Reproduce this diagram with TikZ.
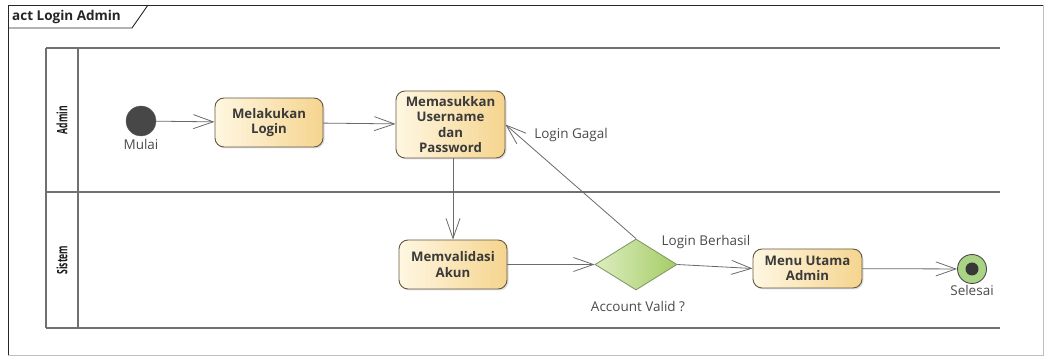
\documentclass[tikz,border=0pt]{standalone}
\usepackage{fontspec}
\setmainfont{Open Sans}
\usetikzlibrary{arrows.meta,shapes.geometric,shadows}
\definecolor{boxL}{HTML}{FFF7E2}
\definecolor{boxR}{HTML}{F5D48E}
\definecolor{boxB}{HTML}{655842}
\definecolor{dmL}{HTML}{DCEDC0}
\definecolor{dmR}{HTML}{A6CC66}
\definecolor{dmB}{HTML}{7C9460}
\definecolor{lineC}{HTML}{6A6A6A}
\definecolor{laneC}{HTML}{707070}
\definecolor{txtC}{HTML}{3A3A3A}
\definecolor{lblC}{HTML}{4A4A4A}
\definecolor{endF}{HTML}{A9D486}
\begin{document}
\begin{tikzpicture}[x=1pt,y=-1pt,
  action/.style={rectangle,rounded corners=9pt,draw=boxB,line width=0.9pt,
    left color=boxL,right color=boxR,align=center,text=txtC,
    font=\fontsize{13.2}{15.2}\selectfont\bfseries,inner sep=0pt,
    drop shadow={shadow xshift=1.5pt,shadow yshift=-1.5pt,opacity=0.25}},
  decision/.style={diamond,draw=dmB,line width=0.8pt,left color=dmL,right color=dmR,
    minimum width=82pt,minimum height=51pt,inner sep=0pt,aspect=1.6},
  flow/.style={draw=lineC,line width=0.8pt,-{Straight Barb[length=20pt,width=14pt,line width=0.8pt]}},
  lbl/.style={text=lblC,font=\fontsize{13.5}{15}\selectfont,inner sep=0pt},
  lane/.style={draw=laneC,line width=1.6pt},
  lanelbl/.style={rotate=90,font=\fontsize{11}{13}\selectfont\bfseries,text=black!90,inner sep=0pt}]
\useasboundingbox (0,0) rectangle (1045,358);
% frame
\draw[line width=0.9pt,black!85] (8,355) -- (8,5) -- (1043,5);
\draw[line width=0.6pt,black!25] (1043,5) -- (1043,355) -- (8,355);
\draw[line width=0.9pt,black!85] (8,28) -- (132,28) -- (148,5);
\node[anchor=west,inner sep=0pt,font=\fontsize{13.5}{15}\selectfont\bfseries,text=black!85] (title) at (12,17) {act Login Admin};
% lanes
\draw[lane] (46,48) -- (1000,48);
\draw[lane] (46,192) -- (1000,192);
\draw[lane] (46,328) -- (1000,328);
\draw[lane] (46,48) -- (46,328);
\draw[lane] (78,48) -- (78,328);
\node[lanelbl] (laneA) at (62,120) {\scalebox{0.78}[1.3]{Admin}};
\node[lanelbl] (laneS) at (62,260) {\scalebox{0.78}[1.3]{Sistem}};
% nodes
\node[circle,fill=black!72,draw=black!60,minimum size=30pt,inner sep=0pt] (start) at (141,121) {};
\node[lbl] (mulai) at (141,144) {Mulai};
\node[action,minimum width=108pt,minimum height=49pt] (login) at (269,122.5) {Melakukan\\Login};
\node[action,minimum width=109pt,minimum height=67pt] (input) at (450.5,124.5) {Memasukkan\\Username\\dan\\Password};
\node[action,minimum width=108pt,minimum height=49pt] (valid) at (453,264.5) {Memvalidasi\\Akun};
\node[decision] (dec) at (636,264.5) {};
\node[action,minimum width=109pt,minimum height=39pt] (menu) at (807.5,268.5) {Menu Utama\\Admin};
\node[circle,fill=endF,draw=black!70,line width=0.9pt,minimum size=29pt,inner sep=0pt] (end) at (972,269) {};
\node[circle,fill=black!78,minimum size=13pt,inner sep=0pt] (endin) at (972,269) {};
\node[lbl] (selesai) at (972,290) {Selesai};
% edges
\draw[flow] (start) -- (login);
\draw[flow] (login) -- (input);
\draw[flow] (input.south -| valid.north) -- (valid.north);
\draw[flow] (valid) -- (dec);
\draw[flow] (dec.north) -- (input.east);
\draw[flow] (dec.east) -- (menu.west);
\draw[flow] (menu) -- (end);
% labels
\node[lbl] (gagal) at (571,135) {Login Gagal};
\node[lbl] (berhasil) at (706,242) {Login Berhasil};
\node[lbl] (accv) at (638,306) {Account Valid ?};
\end{tikzpicture}
\end{document}
